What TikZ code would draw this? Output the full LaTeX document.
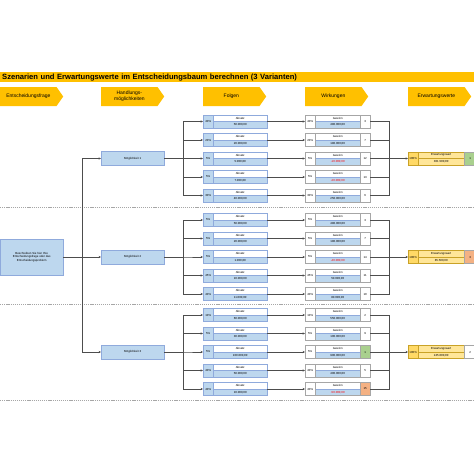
\documentclass[tikz,border=0pt]{standalone}
\usepackage{fontspec}
\setmainfont{Liberation Sans}
\usetikzlibrary{shapes.symbols,arrows.meta}
\definecolor{hdr}{HTML}{FFC000}
\definecolor{lblue}{HTML}{BDD7EE}
\definecolor{cellborder}{HTML}{8FAADC}
\definecolor{wborder}{HTML}{A6A6A6}
\definecolor{evlight}{HTML}{FFE699}
\definecolor{evdark}{HTML}{FFD966}
\definecolor{evborder}{HTML}{C9A227}
\definecolor{rkgreen}{HTML}{A9D08E}
\definecolor{rkorange}{HTML}{F4B183}
\definecolor{negred}{HTML}{FF0000}
\definecolor{linegray}{HTML}{4D4D4D}
\definecolor{sepgray}{HTML}{A6A6A6}
\newcommand\tinyf{\fontsize{2.9}{3.4}\selectfont}
\tikzset{
  cell/.style={draw=cellborder, line width=0.4pt, inner sep=0pt, minimum height=13pt, anchor=west, font=\tinyf},
  halfbox/.style={cell, fill=lblue, path picture={\fill[white] (path picture bounding box.north west) rectangle (path picture bounding box.east); \draw[cellborder,line width=0.4pt] (path picture bounding box.west) -- (path picture bounding box.east);}},
  wcell/.style={cell, draw=wborder},
  whalf/.style={halfbox, draw=wborder},
  evcell/.style={cell, draw=evborder},
  evhalf/.style={cell, draw=evborder, fill=evlight, path picture={\draw[evborder,line width=0.4pt] (path picture bounding box.west) -- (path picture bounding box.east);}},
  txt/.style={inner sep=0pt, font=\tinyf},
  optbox/.style={draw=cellborder, fill=lblue, line width=0.4pt, inner sep=0pt, minimum width=63pt, minimum height=14pt, anchor=west, font=\tinyf},
  chev/.style={shape=signal, signal to=east, signal pointer angle=110, fill=hdr, inner sep=0pt, minimum width=63pt, minimum height=19pt, anchor=west, font=\fontsize{5}{5.8}\selectfont, align=center},
  conn/.style={draw=linegray, line width=0.65pt},
  arr/.style={conn, -{Stealth[length=2.4pt,width=2.2pt]}},
  sepline/.style={draw=sepgray, line width=0.6pt, dash pattern=on 1.2pt off 0.9pt}
}
\newcommand\folgerow[4]{%
  \node[cell, fill=lblue, minimum width=10pt] (#1p) at (203,#2) {#3};
  \node[halfbox, minimum width=54pt] (#1m) at (213,#2) {};
  \node[txt] (#1t) at ([yshift=3.25pt]#1m.center) {Absatz};
  \node[txt] (#1v) at ([yshift=-3.25pt]#1m.center) {#4};
}
\newcommand\wirkrow[6]{%
  \node[wcell, fill=white, minimum width=10pt] (#1p) at (305,#2) {#3};
  \node[whalf, minimum width=45pt] (#1m) at (315,#2) {};
  \node[txt] (#1t) at ([yshift=3.25pt]#1m.center) {Gewinn};
  \node[txt] (#1v) at ([yshift=-3.25pt]#1m.center) {#4};
  \node[wcell, fill=#6, minimum width=10pt] (#1r) at (360,#2) {#5};
}
\newcommand\evrow[5]{%
  \node[evcell, fill=evdark, minimum width=10pt] (#1p) at (408,#2) {100\%};
  \node[evhalf, minimum width=46pt] (#1m) at (418,#2) {};
  \node[txt] (#1t) at ([yshift=3.25pt]#1m.center) {Erwartungswert};
  \node[txt] (#1v) at ([yshift=-3.25pt]#1m.center) {#3};
  \node[evcell, draw=wborder, fill=#5, minimum width=12pt] (#1r) at (464,#2) {#4};
}
\begin{document}
\begin{tikzpicture}[x=1pt,y=-1pt]
\useasboundingbox (0,0) rectangle (474,474);
\fill[white] (0,0) rectangle (474,474);

% title bar
\node[fill=hdr, anchor=north west, inner xsep=2pt, inner ysep=0pt, text width=470pt, minimum height=10pt, align=left, font=\bfseries\fontsize{7.6}{8}\selectfont] (title) at (0,72) {Szenarien und Erwartungswerte im Entscheidungsbaum berechnen (3 Varianten)};

% chevrons
\node[chev] (c1) at (0,96.5) {Entscheidungsfrage};
\node[chev] (c2) at (101,96.5) {Handlungs-\\möglichkeiten};
\node[chev] (c3) at (203,96.5) {Folgen};
\node[chev] (c4) at (305,96.5) {Wirkungen};
\node[chev] (c5) at (408,96.5) {Erwartungswerte};

% separators
\draw[sepline] (0,207.5) -- (474,207.5);
\draw[sepline] (0,304.5) -- (474,304.5);
\draw[sepline] (0,400) -- (474,400);

% question and options
\node[optbox, minimum height=36pt, align=center] (q) at (0,257) {Beschreiben Sie hier Ihre\\Entscheidungsfrage oder das\\Entscheidungsproblem};
\node[optbox] (m1) at (101,158.5) {Möglichkeit 1};
\node[optbox] (m2) at (101,257) {Möglichkeit 2};
\node[optbox] (m3) at (101,352) {Möglichkeit 3};

% group 1
\folgerow{fa1}{121.5}{40\%}{50.000,00}
\folgerow{fa2}{140}{20\%}{20.000,00}
\folgerow{fa3}{158.5}{5\%}{5.000,00}
\folgerow{fa4}{177}{5\%}{7.000,00}
\folgerow{fa5}{195.5}{30\%}{40.000,00}
\wirkrow{wa1}{121.5}{40\%}{480.000,00}{3}{white}
\wirkrow{wa2}{140}{20\%}{180.000,00}{7}{white}
\wirkrow{wa3}{158.5}{5\%}{\textcolor{negred}{-10.000,00}}{12}{white}
\wirkrow{wa4}{177}{5\%}{\textcolor{negred}{-20.000,00}}{13}{white}
\wirkrow{wa5}{195.5}{30\%}{250.000,00}{6}{white}
\evrow{ea}{158.5}{301.500,00}{1}{rkgreen}

% group 2
\folgerow{fb1}{220}{5\%}{50.000,00}
\folgerow{fb2}{238.5}{5\%}{20.000,00}
\folgerow{fb3}{257}{5\%}{1.000,00}
\folgerow{fb4}{275.5}{45\%}{10.000,00}
\folgerow{fb5}{294}{40\%}{11.000,00}
\wirkrow{wb1}{220}{5\%}{480.000,00}{3}{white}
\wirkrow{wb2}{238.5}{5\%}{180.000,00}{7}{white}
\wirkrow{wb3}{257}{5\%}{\textcolor{negred}{-40.000,00}}{14}{white}
\wirkrow{wb4}{275.5}{45\%}{50.000,00}{11}{white}
\wirkrow{wb5}{294}{40\%}{80.000,00}{10}{white}
\evrow{eb}{257}{85.500,00}{3}{rkorange}

% group 3
\folgerow{fc1}{315}{10\%}{60.000,00}
\folgerow{fc2}{333.5}{5\%}{30.000,00}
\folgerow{fc3}{352}{5\%}{100.000,00}
\folgerow{fc4}{370.5}{40\%}{50.000,00}
\folgerow{fc5}{389}{40\%}{10.000,00}
\wirkrow{wc1}{315}{10\%}{550.000,00}{2}{white}
\wirkrow{wc2}{333.5}{5\%}{100.000,00}{9}{white}
\wirkrow{wc3}{352}{5\%}{900.000,00}{1}{rkgreen}
\wirkrow{wc4}{370.5}{40\%}{400.000,00}{5}{white}
\wirkrow{wc5}{389}{40\%}{\textcolor{negred}{-50.000,00}}{15}{rkorange}
\evrow{ec}{352}{245.000,00}{2}{white}

% connectors: question -> options
\draw[arr] (q.east) -- ++(19,0) |- (m1.west);
\draw[arr] (q.east) -- (m2.west);
\draw[arr] (q.east) -- ++(19,0) |- (m3.west);

% options -> consequences, consequences -> effects, effects -> expected values
\foreach \g/\m in {a/m1,b/m2,c/m3}{
  \foreach \k in {1,...,5}{
    \draw[arr] (\m.east) -- ++(19,0) |- (f\g\k p.west);
    \draw[arr] (f\g\k m.east) -- (w\g\k p.west);
  }
  \foreach \k in {1,2,4,5}{
    \draw[conn] (w\g\k r.east) -- ++(19,0) |- (w\g3r.east);
  }
  \draw[arr] (w\g3r.east) -- (e\g p.west);
}
\end{tikzpicture}
\end{document}
